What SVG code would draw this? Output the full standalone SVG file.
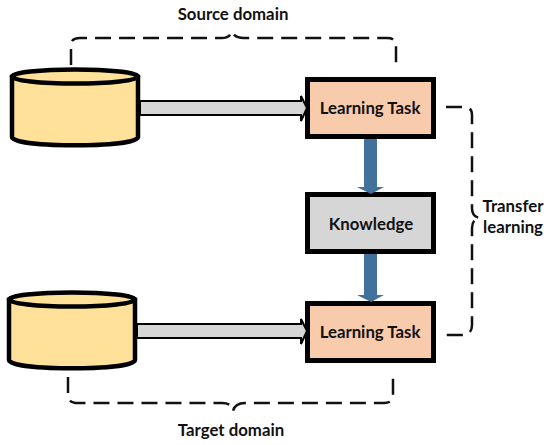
<svg xmlns="http://www.w3.org/2000/svg" width="550" height="445" viewBox="0 0 550 445">
<style>
.t{font-family:Lato,"Open Sans","Liberation Sans",sans-serif;font-weight:700;font-size:16.800px;fill:#111;text-anchor:middle}
.box{stroke:#000;stroke-width:5}
.task{fill:#f8cbad}
.know{fill:#d6d6d6}
.cyl{fill:#ffe199;stroke:#000;stroke-width:4.5}
.gray{fill:#d6d6d6;stroke:#000;stroke-width:2}
.blue{fill:#41719c;stroke:none}
.dash{fill:none;stroke:#111;stroke-width:2.500;stroke-dasharray:16 8}
</style>
<rect width="550" height="445" fill="#fff"/>
<g id="cylinder-source">
<path class="cyl" d="M12 77V137C12 148 138 148 138 137V77Z"/>
<ellipse class="cyl" cx="75" cy="76.500" rx="63" ry="7"/>
</g>
<g id="cylinder-target">
<path class="cyl" d="M9 300V360C9 371 135 371 135 360V300Z"/>
<ellipse class="cyl" cx="72" cy="299.500" rx="63" ry="7"/>
</g>
<g id="learning-task-source">
<rect class="box task" x="307.500" y="79.500" width="126" height="57"/>
<text class="t" x="370" y="114">Learning Task</text>
</g>
<g id="knowledge">
<rect class="box know" x="307.500" y="194.500" width="126" height="57"/>
<text class="t" x="371" y="230">Knowledge</text>
</g>
<g id="learning-task-target">
<rect class="box task" x="307.500" y="303.500" width="126" height="57"/>
<text class="t" x="370" y="338">Learning Task</text>
</g>
<g id="connectors">
<path class="gray" d="M140 101H301V96L307 108L301 121V115H140Z"/>
<path class="gray" d="M137 324H301V319L307 331L301 344V338H137Z"/>
<path class="blue" d="M364 139H377V187H384L371 194L357 187H364Z"/>
<path class="blue" d="M364 254H377V295H384L371 302L357 295H364Z"/>
<path class="dash" d="M71 65V45Q71 38 80 38H222Q230 38 232 31Q234 38 244 38H387Q396 38 396 45V65"/>
<path class="dash" d="M68 377V395Q68 403 78 403H222Q232 403 233 411Q235 403 245 403H384Q393 403 393 395V378"/>
<path class="dash" d="M446 107H464Q472 107 472 115V208Q472 217 480 218Q472 219 472 228V325Q472 335 462 335H446"/>
</g>
<g id="labels">
<text class="t" x="233" y="20">Source domain</text>
<text class="t" x="231" y="436">Target domain</text>
<text class="t" x="513" y="212">Transfer</text>
<text class="t" x="513" y="233">learning</text>
</g>
</svg>
